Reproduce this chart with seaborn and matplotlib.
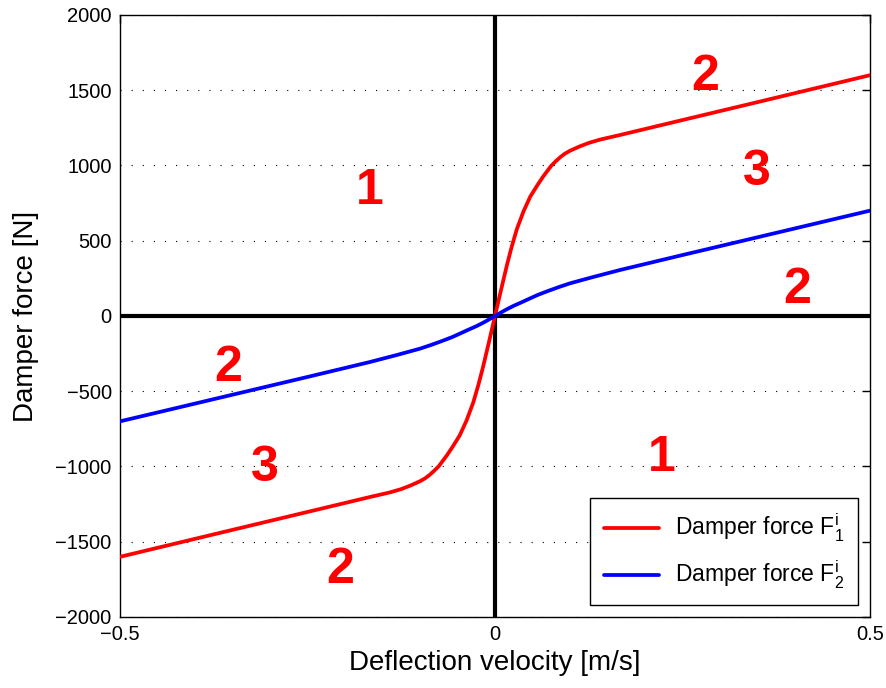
import pandas as pd
import seaborn as sns
import matplotlib.pyplot as plt

# velocidades y fuerzas
v_f1 = [-0.5, -0.35, -0.25, -0.167, -0.14, -0.125, -0.113, -0.1, -0.093, -0.087, -0.081,
        -0.075, -0.07, -0.064, -0.056, -0.047, -0.038, -0.029, -0.022, -0.016, -0.008, 0.0,
        0.008, 0.016, 0.022, 0.029, 0.038, 0.047, 0.056, 0.064, 0.07, 0.075, 0.081,
        0.087, 0.093, 0.1, 0.113, 0.125, 0.14, 0.167, 0.25, 0.35, 0.5]
f1 = [-1600, -1421, -1302, -1203, -1172, -1150, -1127, -1098, -1078, -1055, -1028,
      -998, -965, -925, -865, -793, -695, -575, -455, -340, -172, 0,
      172, 340, 455, 575, 695, 793, 865, 925, 965, 998, 1028,
      1055, 1078, 1098, 1127, 1150, 1172, 1203, 1302, 1421, 1600]

v_f2 = [-0.5, -0.35, -0.25, -0.167, -0.13, -0.1, -0.085, -0.07, -0.057, -0.045, -0.035,
        -0.025, -0.017, -0.01, 0.0,
        0.01, 0.017, 0.025, 0.035, 0.045, 0.057, 0.07, 0.085, 0.1, 0.13, 0.167,
        0.25, 0.35, 0.5]
f2 = [-700, -523, -405, -306, -258, -217, -192, -165, -140, -113, -90,
      -68, -48, -29, 0,
      29, 48, 68, 90, 113, 140, 165, 192, 217, 258, 306,
      405, 523, 700]

# etiquetas de zonas (texto, x, y)
zonas = [("1", -0.167, 830), ("2", 0.28, 1590), ("3", 0.349, 960), ("2", 0.403, 170),
         ("2", -0.356, -345), ("3", -0.307, -1010), ("1", 0.223, -945), ("2", -0.207, -1690)]

df1 = pd.DataFrame({'v': v_f1, 'F': f1})
df2 = pd.DataFrame({'v': v_f2, 'F': f2})

sns.set_style("white")
plt.rcParams['font.family'] = ['Liberation Sans', 'DejaVu Sans']
plt.rcParams['mathtext.fontset'] = 'custom'
plt.rcParams['mathtext.rm'] = 'Liberation Sans'
plt.rcParams['mathtext.it'] = 'Liberation Sans'
plt.rcParams['text.color'] = 'black'
plt.rcParams['axes.labelcolor'] = 'black'

fig = plt.figure(figsize=(8.87, 6.88), dpi=100)
ax = fig.add_axes([0.1353, 0.1032, 0.8455, 0.875])

# ejes en cero
ax.axhline(0, color='black', linewidth=3, zorder=1)
ax.axvline(0, color='black', linewidth=3, zorder=1)

sns.lineplot(x='v', y='F', data=df1, color='red', linewidth=2.7, sort=False,
             estimator=None, ax=ax, label=r'Damper force F$^{\rm i}_{\rm 1}$', zorder=3)
sns.lineplot(x='v', y='F', data=df2, color='blue', linewidth=2.7, sort=False,
             estimator=None, ax=ax, label=r'Damper force F$^{\rm i}_{\rm 2}$', zorder=3)

for txt, x, y in zonas:
    ax.text(x, y, txt, color='red', fontsize=36, fontweight='bold', ha='center', va='center')

ax.set_xlim(-0.5, 0.5)
ax.set_ylim(-2000, 2000)
ax.set_xticks([-0.5, 0, 0.5])
ax.set_xticklabels(['\u22120.5', '0', '0.5'])
ax.set_yticks(range(-2000, 2001, 500))
ax.yaxis.grid(True, color='black', linestyle=(0, (1, 9)), linewidth=0.8)
ax.xaxis.grid(False)
ax.tick_params(direction='in', length=6, width=1, labelsize=14.5, top=True, right=True,
               colors='black', pad=6)
for s in ax.spines.values():
    s.set_color('black')
    s.set_linewidth(1)

ax.set_xlabel('Deflection velocity [m/s]', fontsize=20, labelpad=4)
ax.set_ylabel('Damper force [N]', fontsize=20, labelpad=12)

leg = ax.legend(loc='lower right', bbox_to_anchor=(0.984, 0.02), borderaxespad=0,
                fontsize=16.5, frameon=True, fancybox=False, handlelength=2.4,
                edgecolor='black', framealpha=1, borderpad=0.6, labelspacing=0.65,
                handletextpad=0.7)
leg.get_frame().set_linewidth(1)

plt.savefig('out.png', dpi=100)
